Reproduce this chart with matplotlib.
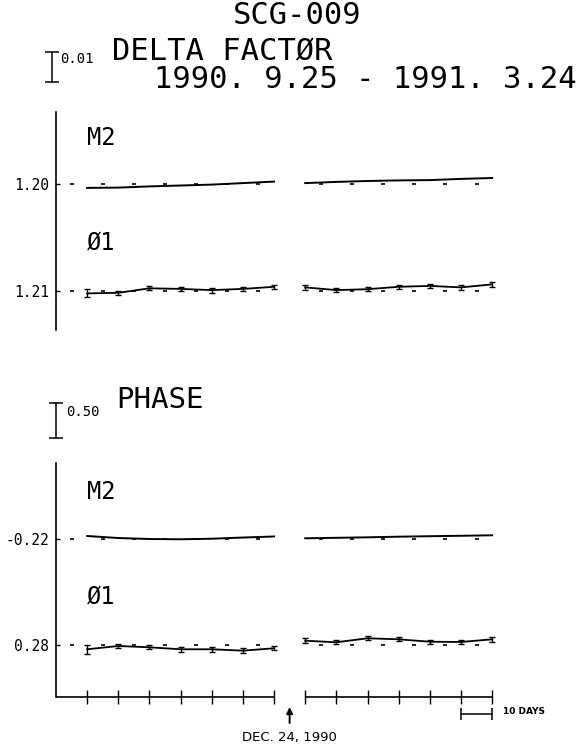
import matplotlib
matplotlib.use('Agg')
import matplotlib.pyplot as plt

W, H = 579, 751

# ---------------- data ----------------
days_left = [10, 20, 30, 40, 50, 60, 70]
days_right = [80, 90, 100, 110, 120, 130, 140]
tick_days = days_left + days_right
ref_dash_days = [5, 15, 25, 35, 45, 55, 65, 85, 95, 105, 115, 125, 135]
scale_bar_days = [130, 140]

delta_labels = ["1.20", "1.21"]
delta_refs = [1.20, 1.21]
delta_m2_left = [1.1987, 1.1988, 1.1992, 1.1995, 1.1998, 1.2003, 1.2008]
delta_m2_right = [1.2003, 1.2007, 1.2010, 1.2012, 1.2013, 1.2017, 1.2020]
delta_o1_left = [1.2092, 1.2094, 1.2109, 1.2107, 1.2103, 1.2107, 1.2114]
delta_o1_right = [1.2112, 1.2103, 1.2106, 1.2114, 1.2117, 1.2112, 1.2122]
delta_o1_err_left = [0.0013, 0.0007, 0.0006, 0.0007, 0.0008, 0.0007, 0.0006]
delta_o1_err_right = [0.0009, 0.0006, 0.0006, 0.0006, 0.0007, 0.0008, 0.0008]

phase_labels = ["-0.22", "0.28"]
phase_refs = [-0.22, 0.28]
phase_m2_left = [-0.177, -0.206, -0.220, -0.224, -0.216, -0.199, -0.184]
phase_m2_right = [-0.210, -0.203, -0.196, -0.187, -0.180, -0.174, -0.167]
phase_o1_left = [0.219, 0.266, 0.247, 0.219, 0.219, 0.199, 0.233]
phase_o1_right = [0.341, 0.319, 0.376, 0.361, 0.327, 0.323, 0.361]
phase_o1_err_left = [0.067, 0.035, 0.03, 0.035, 0.035, 0.035, 0.03]
phase_o1_err_right = [0.035, 0.03, 0.03, 0.03, 0.03, 0.035, 0.035]

# ---------------- layout ----------------
MONO = ['DejaVu Sans Mono']
SANS = ['DejaVu Sans']
K = 'black'

fig = plt.figure(figsize=(W / 100, H / 100), dpi=100)
fig.patch.set_facecolor('white')

def fx(px):
    return px / W

def fy(py):
    return 1 - py / H

X0, X1 = 56, 560
PX_PER_DAY = 3.115
XLIM = (0, (X1 - X0) / PX_PER_DAY)

# top panel (delta factor): 3000 px per unit
D_SCALE = 3000.0
D_TOP, D_BOT, D_M2, D_O1 = 112, 330, 184, 291
ax1 = fig.add_axes([fx(X0), fy(D_BOT), fx(X1) - fx(X0), fy(D_TOP) - fy(D_BOT)])
ax1.set_xlim(*XLIM)
ax1.set_ylim(-(D_BOT - D_M2) / D_SCALE, (D_M2 - D_TOP) / D_SCALE)
d_bases = [0.0, -(D_O1 - D_M2) / D_SCALE]

# bottom panel (phase): 70 px per degree
P_SCALE = 70.0
P_TOP, P_BOT, P_M2, P_O1 = 463, 697, 539, 645
ax2 = fig.add_axes([fx(X0), fy(P_BOT), fx(X1) - fx(X0), fy(P_TOP) - fy(P_BOT)])
ax2.set_xlim(*XLIM)
ax2.set_ylim(-(P_BOT - P_M2) / P_SCALE, (P_M2 - P_TOP) / P_SCALE)
p_bases = [0.0, -(P_O1 - P_M2) / P_SCALE]

for ax in (ax1, ax2):
    ax.set_facecolor('none')
    for s in ('top', 'right', 'bottom'):
        ax.spines[s].set_visible(False)
    ax.spines['left'].set_linewidth(1.2)
    ax.tick_params(axis='y', direction='in', length=3, width=1, pad=5,
                   labelsize=10.5)

ax1.tick_params(axis='x', bottom=False, labelbottom=False)
ax1.set_yticks(d_bases)
ax1.set_yticklabels(delta_labels, family=MONO)
ax2.set_yticks(p_bases)
ax2.set_yticklabels(phase_labels, family=MONO)


def draw_series(ax, left, right, ref, base, errl=None, errr=None):
    yl = [v - ref + base for v in left]
    yr = [v - ref + base for v in right]
    ax.plot(ref_dash_days, [base] * len(ref_dash_days), ls='none', marker='_',
            ms=3.5, mew=1.2, color=K)
    if errl is None:
        ax.plot(days_left, yl, color=K, lw=1.4)
        ax.plot(days_right, yr, color=K, lw=1.4)
    else:
        ax.errorbar(days_left, yl, yerr=errl, color=K, lw=1.3, elinewidth=1,
                    capsize=2.5, capthick=1)
        ax.errorbar(days_right, yr, yerr=errr, color=K, lw=1.3, elinewidth=1,
                    capsize=2.5, capthick=1)


draw_series(ax1, delta_m2_left, delta_m2_right, delta_refs[0], d_bases[0])
draw_series(ax1, delta_o1_left, delta_o1_right, delta_refs[1], d_bases[1],
            delta_o1_err_left, delta_o1_err_right)
draw_series(ax2, phase_m2_left, phase_m2_right, phase_refs[0], p_bases[0])
draw_series(ax2, phase_o1_left, phase_o1_right, phase_refs[1], p_bases[1],
            phase_o1_err_left, phase_o1_err_right)

# bottom axis in two segments with crossing ticks
yb = ax2.get_ylim()[0]
ax2.hlines(yb, 0, days_left[-1], color=K, lw=1.2, clip_on=False)
ax2.hlines(yb, days_right[0], days_right[-1], color=K, lw=1.2, clip_on=False)
ax2.set_xticks(tick_days)
ax2.tick_params(axis='x', direction='inout', length=10.5, width=1,
                labelbottom=False, color=K)

# scale bars (0.01 and 0.50)
def scale_bar(ax, x_px, top_px, base_px, scale, size):
    xd = (x_px - X0) / PX_PER_DAY
    ytop = (base_px - top_px) / scale
    ax.plot([xd, xd], [ytop, ytop - size], color=K, lw=1.1, clip_on=False)
    ax.plot([xd, xd], [ytop, ytop - size], ls='none', marker='_', ms=10,
            mew=1.1, color=K, clip_on=False)

scale_bar(ax1, 52, 52, D_M2, D_SCALE, 0.01)
scale_bar(ax2, 56, 403, P_M2, P_SCALE, 0.50)
fig.text(fx(60), fy(59), "0.01", family=MONO, fontsize=10, va='center', ha='left')
fig.text(fx(66), fy(412), "0.50", family=MONO, fontsize=10, va='center', ha='left')

# 10 days bar
ybar = -(714 - P_M2) / P_SCALE
ax2.plot(scale_bar_days, [ybar, ybar], color=K, lw=1.1, clip_on=False)
ax2.plot(scale_bar_days, [ybar, ybar], ls='none', marker='|', ms=9, mew=1.1,
         color=K, clip_on=False)
fig.text(fx(503), fy(712), "10 DAYS", family=SANS, fontsize=6.5, fontweight='bold',
         va='center', ha='left')

# arrow for DEC. 24, 1990
xa = (days_left[-1] + days_right[0]) / 2
ax2.annotate('', xy=(xa, -(707 - P_M2) / P_SCALE), xytext=(xa, -(723 - P_M2) / P_SCALE),
             xycoords='data', annotation_clip=False,
             arrowprops=dict(arrowstyle='-|>', color=K, lw=1.4,
                             mutation_scale=9, shrinkA=0, shrinkB=0))
fig.text(fx(X0 + xa * PX_PER_DAY), fy(738), "DEC. 24, 1990", family=SANS,
         fontsize=9.5, va='center', ha='center')

# titles
fig.text(fx(297), fy(15), "SCG-009", family=MONO, fontsize=22, va='center', ha='center')
fig.text(fx(112), fy(52), "DELTA FACTØR", family=MONO, fontsize=22, va='center', ha='left')
fig.text(fx(577), fy(79), "1990. 9.25 - 1991. 3.24", family=MONO, fontsize=22,
         va='center', ha='right')
fig.text(fx(116), fy(400), "PHASE", family=MONO, fontsize=21, va='center', ha='left')

# series labels
for txt, py in (("M2", 138), ("Ø1", 242), ("M2", 492), ("Ø1", 597)):
    fig.text(fx(87), fy(py), txt, family=MONO, fontsize=17, va='center', ha='left')

fig.savefig('out.png', dpi=100, facecolor='white')
